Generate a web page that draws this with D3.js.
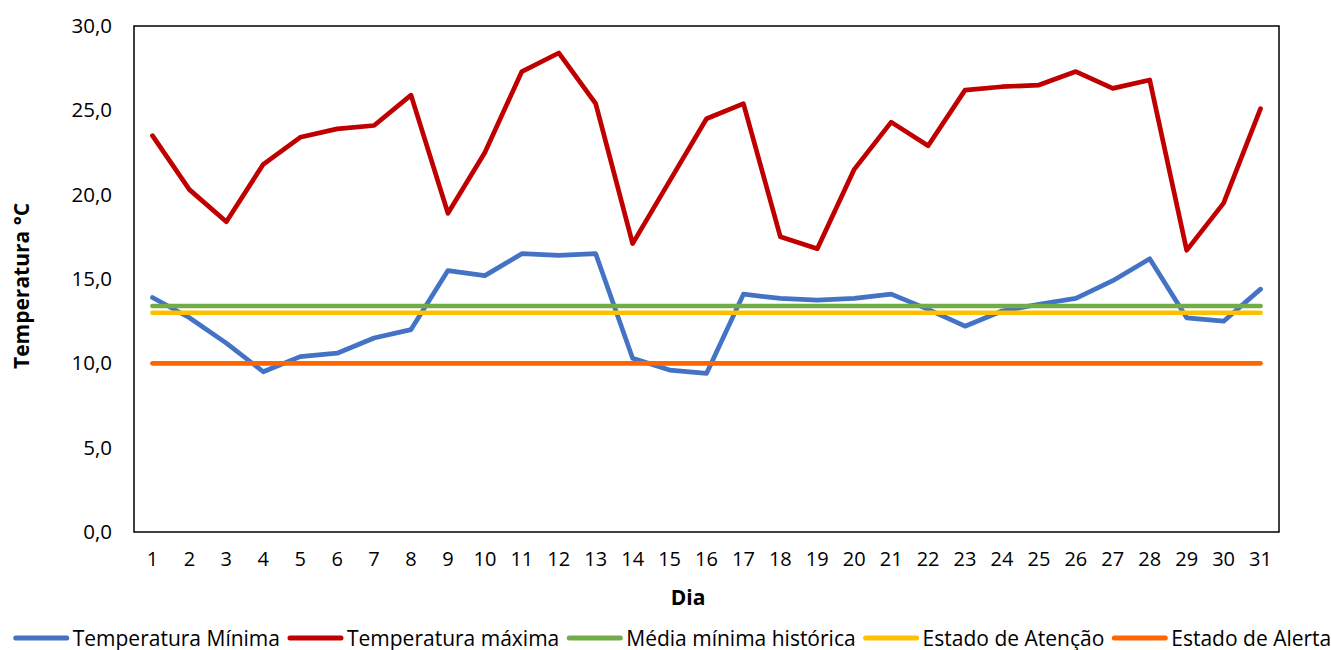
<!DOCTYPE html>
<html lang="pt">
<head>
<meta charset="utf-8">
<script src="https://cdn.jsdelivr.net/npm/d3@7"></script>
<style>
  html, body { margin: 0; padding: 0; background: #fff; }
  svg { display: block; font-family: "Open Sans", sans-serif; }
</style>
</head>
<body>
<svg id="chart" width="1331" height="650"></svg>
<script>
// Daily temperatures for the month (°C)
const dias = d3.range(1, 32);
const tempMinima = [13.9, 12.7, 11.2, 9.5, 10.4, 10.6, 11.5, 12.0, 15.5, 15.2, 16.5,
                    16.4, 16.5, 10.3, 9.6, 9.4, 14.1, 13.85, 13.75, 13.85, 14.1,
                    13.2, 12.2, 13.1, 13.5, 13.85, 14.9, 16.2, 12.7, 12.5, 14.4];
const tempMaxima = [23.5, 20.3, 18.4, 21.8, 23.4, 23.9, 24.1, 25.9, 18.9, 22.5, 27.3,
                    28.4, 25.4, 17.1, 20.8, 24.5, 25.4, 17.5, 16.8, 21.5, 24.3,
                    22.9, 26.2, 26.4, 26.5, 27.3, 26.3, 26.8, 16.7, 19.5, 25.1];
// Reference levels
const mediaMinimaHistorica = 13.4;
const estadoAtencao = 13.0;
const estadoAlerta = 10.0;
const yTicks = [0, 5, 10, 15, 20, 25, 30];

const seriesNames = ["Temperatura Mínima", "Temperatura máxima", "Média mínima histórica",
                     "Estado de Atenção", "Estado de Alerta"];
const seriesColors = ["#4472C4", "#C00000", "#70AD47", "#FFC000", "#FF6600"];

const series = [
  tempMinima,
  tempMaxima,
  dias.map(() => mediaMinimaHistorica),
  dias.map(() => estadoAtencao),
  dias.map(() => estadoAlerta)
].map((values, i) => ({ name: seriesNames[i], color: seriesColors[i], values }));

const svg = d3.select("#chart");
const plot = { left: 134, right: 1279, top: 26, bottom: 532 };

const x = d3.scaleBand().domain(dias).range([plot.left, plot.right]).padding(0);
const xc = d => x(d) + x.bandwidth() / 2;
const y = d3.scaleLinear().domain([0, 30]).range([plot.bottom, plot.top]);

const ptBR = d3.formatLocale({ decimal: ",", thousands: ".", grouping: [3], currency: ["", ""] });
const fmt = ptBR.format(".1f");

// Y axis labels
const yAxis = svg.append("g")
  .attr("transform", `translate(${plot.left},0)`)
  .call(d3.axisLeft(y).tickValues(yTicks).tickFormat(fmt).tickSize(0).tickPadding(22));
yAxis.select(".domain").remove();
yAxis.selectAll("text").attr("font-size", 20.5).attr("fill", "#000")
  .attr("font-family", "Open Sans, sans-serif");

// X axis labels
const xAxis = svg.append("g")
  .attr("transform", `translate(0,${plot.bottom})`)
  .call(d3.axisBottom(x).tickSize(0).tickPadding(20));
xAxis.select(".domain").remove();
xAxis.selectAll("text").attr("font-size", 20).attr("fill", "#000")
  .attr("font-family", "Open Sans, sans-serif");

// Series lines
const line = d3.line().x((v, i) => xc(dias[i])).y(v => y(v));
svg.append("g").selectAll("path")
  .data(series)
  .join("path")
  .attr("d", s => line(s.values))
  .attr("fill", "none")
  .attr("stroke", s => s.color)
  .attr("stroke-width", 4.7)
  .attr("stroke-linejoin", "round")
  .attr("stroke-linecap", "round");

// Plot frame
svg.append("rect")
  .attr("x", plot.left).attr("y", plot.top)
  .attr("width", plot.right - plot.left).attr("height", plot.bottom - plot.top)
  .attr("fill", "none").attr("stroke", "#000").attr("stroke-width", 1.5);

// Axis titles
svg.append("text")
  .attr("x", 688).attr("y", 605)
  .attr("text-anchor", "middle")
  .attr("font-size", 21).attr("font-weight", "bold").attr("fill", "#000")
  .text("Dia");

svg.append("text")
  .attr("transform", `translate(29,${(plot.top + plot.bottom) / 2 + 7}) rotate(-90)`)
  .attr("text-anchor", "middle")
  .attr("font-size", 21).attr("font-weight", "bold").attr("fill", "#000")
  .text("Temperatura °C");

// Legend
const legendY = 638;
const swatch = 55, gapText = 4, gapItem = 8;
const legend = svg.append("g");
let cursor = 0;
series.forEach(s => {
  const g = legend.append("g").attr("transform", `translate(${cursor},0)`);
  g.append("line")
    .attr("x1", 2).attr("x2", swatch - 2)
    .attr("y1", legendY).attr("y2", legendY)
    .attr("stroke", s.color).attr("stroke-width", 5).attr("stroke-linecap", "round");
  const t = g.append("text")
    .attr("x", swatch + gapText).attr("y", legendY + 7.5)
    .attr("font-size", 21).attr("fill", "#000")
    .text(s.name);
  cursor += swatch + gapText + t.node().getComputedTextLength() + gapItem;
});
const legendWidth = cursor - gapItem;
legend.attr("transform", `translate(${(16 + 1329) / 2 - legendWidth / 2},0)`);
</script>
</body>
</html>
